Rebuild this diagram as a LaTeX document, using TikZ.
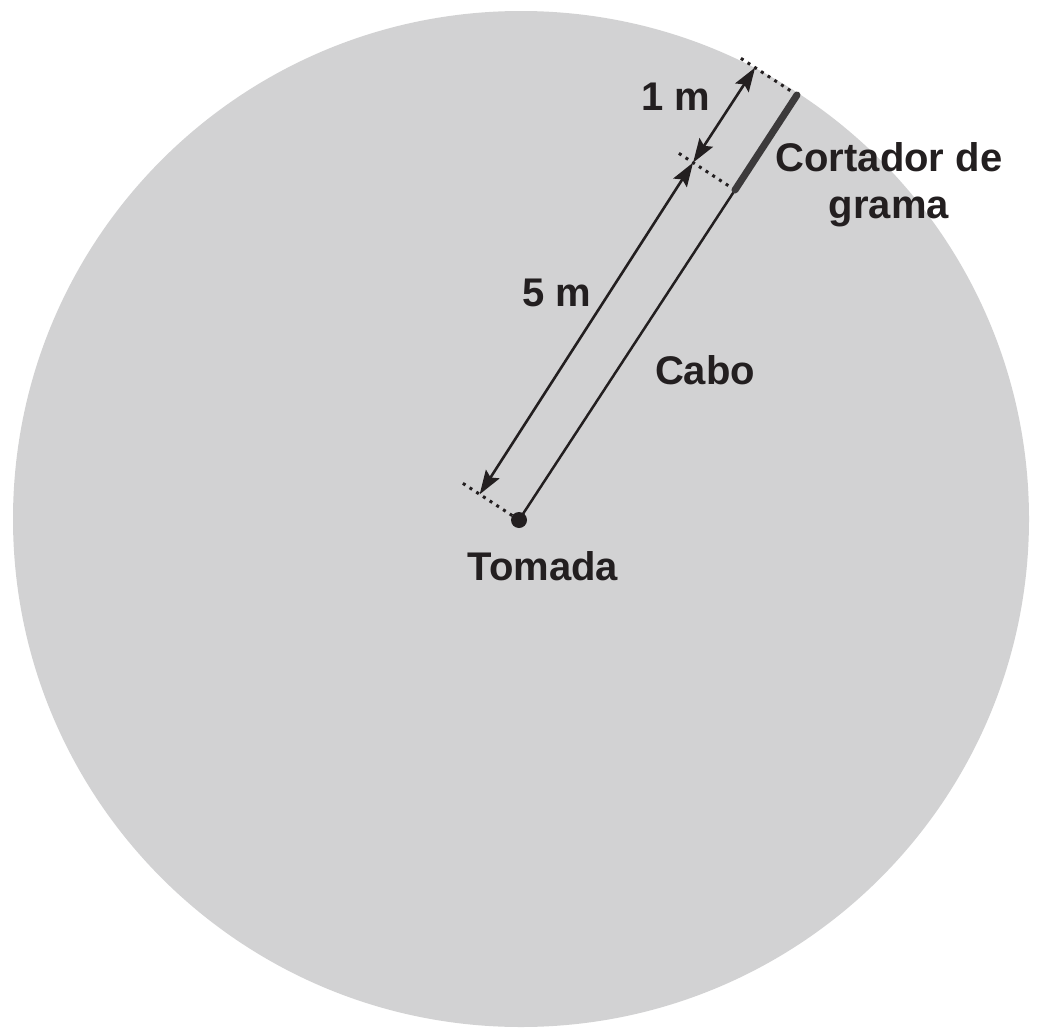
\documentclass[tikz,border=0pt]{standalone}
\usepackage{fontspec}
\setmainfont{Liberation Sans}
\usetikzlibrary{arrows.meta,calc}
\definecolor{ink}{RGB}{35,31,32}
\definecolor{lawn}{RGB}{210,210,211}
\definecolor{mower}{RGB}{60,58,59}
\begin{document}
\begin{tikzpicture}[x=1pt,y=-1pt,
  lbl/.style={font=\fontsize{40}{47}\selectfont\bfseries, text=ink, inner sep=0pt},
  tip/.tip={Stealth[length=24pt,width=16pt,inset=4pt]},
  dimline/.style={draw=ink, line width=2.6pt, tip-tip},
  tick/.style={draw=ink, line width=3pt, dash pattern=on 3pt off 5pt},
  cable/.style={draw=ink, line width=2.5pt}]
\useasboundingbox (0,0) rectangle (1042,1036);
\fill[lawn] (521,519) circle (508);
% key points
\coordinate (T) at (519,520);
\coordinate (C) at (735,190);
\coordinate (M) at (797,95);
% perpendicular offsets
\coordinate (Td) at ($(T)+(-58.6,-38.3)$);
\coordinate (Cd) at ($(C)+(-58.6,-38.3)$);
\coordinate (Md) at ($(M)+(-58.6,-38.3)$);
\coordinate (Ta) at ($(T)+(-39.3,-25.7)$);
\coordinate (Ca) at ($(C)+(-41.9,-27.4)$);
\coordinate (Ma) at ($(M)+(-41.9,-27.4)$);
% dotted ticks
\draw[tick] (T) -- (Td);
\draw[tick] (C) -- (Cd);
\draw[tick] (M) -- (Md);
% cable and mower
\draw[cable] (T) -- (C);
\draw[draw=mower, line width=7pt, line cap=round] (C) -- (M);
\fill[ink] (T) circle (8);
% dimensions
\draw[dimline] (Ta) -- (Ca);
\draw[dimline] (Ca) -- (Ma);
% labels
\node[lbl] (l1) at (676,97) {1 m};
\node[lbl] (l5) at (557,293) {5 m};
\node[lbl] (lc) at (705,370) {Cabo};
\node[lbl, align=center] (lm) at (889,185) {Cortador de\\grama};
\node[lbl] (lt) at (543,566) {Tomada};
\end{tikzpicture}
\end{document}
